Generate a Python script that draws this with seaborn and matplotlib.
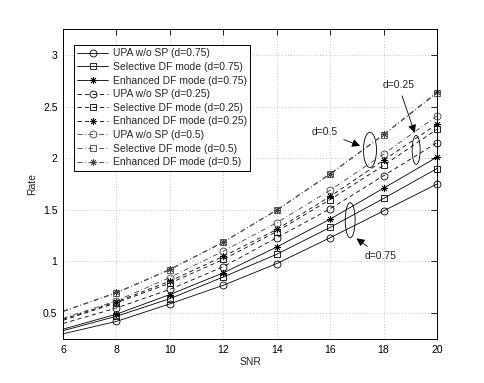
import matplotlib
matplotlib.use("Agg")
import matplotlib.pyplot as plt
import seaborn as sns
import pandas as pd
from matplotlib.patches import Ellipse

snr = [6, 8, 10, 12, 14, 16, 18, 20]

upa_075 = [0.30, 0.42, 0.59, 0.77, 0.98, 1.23, 1.49, 1.75]
sel_075 = [0.33, 0.47, 0.64, 0.85, 1.07, 1.33, 1.61, 1.90]
enh_075 = [0.345, 0.49, 0.68, 0.89, 1.14, 1.41, 1.71, 2.01]
upa_025 = [0.40, 0.55, 0.73, 0.95, 1.23, 1.51, 1.83, 2.15]
sel_025 = [0.43, 0.60, 0.79, 1.02, 1.29, 1.60, 1.93, 2.28]
enh_025 = [0.44, 0.61, 0.81, 1.05, 1.31, 1.63, 1.98, 2.33]
upa_05 = [0.45, 0.62, 0.845, 1.10, 1.375, 1.69, 2.04, 2.41]
sel_05 = [0.515, 0.695, 0.92, 1.185, 1.495, 1.845, 2.225, 2.63]
enh_05 = [0.52, 0.70, 0.925, 1.19, 1.50, 1.85, 2.23, 2.64]

labels = ["UPA w/o SP (d=0.75)", "Selective DF mode (d=0.75)", "Enhanced DF mode (d=0.75)",
          "UPA w/o SP (d=0.25)", "Selective DF mode (d=0.25)", "Enhanced DF mode (d=0.25)",
          "UPA w/o SP (d=0.5)", "Selective DF mode (d=0.5)", "Enhanced DF mode (d=0.5)"]
series = [upa_075, sel_075, enh_075, upa_025, sel_025, enh_025, upa_05, sel_05, enh_05]

sns.set_theme(style="white")
plt.rcParams['font.family'] = ['Liberation Sans', 'DejaVu Sans']

fig = plt.figure(figsize=(4.85, 3.83), dpi=100)
ax = fig.add_axes([0.13, 0.115, 0.771, 0.809])

ast = (8, 2, 0)
markers = ['o', 's', ast] * 3
styles = ['-'] * 3 + [(0, (5, 4))] * 3 + [(0, (6, 3, 1, 3))] * 3
msizes = [5, 4, 5] * 3
colors = ['black'] * 6 + ['#404040'] * 3

for lab, vals, mk, ls, ms, c in zip(labels, series, markers, styles, msizes, colors):
    df = pd.DataFrame({"SNR": snr, "Rate": vals})
    sns.lineplot(data=df, x="SNR", y="Rate", ax=ax, color=c, lw=0.6,
                 linestyle=ls, marker=mk, markersize=ms, markevery=list(range(1, len(snr))),
                 markerfacecolor='none', markeredgecolor=c, markeredgewidth=0.6,
                 label=lab, clip_on=False)

ax.set_xlim(6, 20)
ax.set_ylim(0.25, 3.25)
ax.set_xticks(snr)
ax.set_yticks([0.5, 1, 1.5, 2, 2.5, 3])
ax.set_yticklabels(["0.5", "1", "1.5", "2", "2.5", "3"])
ax.grid(True, color='#b0b0b0', linestyle=(0, (1, 2.5)), linewidth=0.6)
ax.tick_params(direction='in', length=4, width=0.6, labelsize=7.5, top=True, right=True,
               colors='black', pad=4)
for s in ax.spines.values():
    s.set_color('black')
    s.set_linewidth(0.7)
ax.set_xlabel("SNR", fontsize=7.5, labelpad=2)
ax.set_ylabel("Rate", fontsize=7.5, labelpad=4)

leg = ax.legend(loc='upper left', bbox_to_anchor=(0.028, 0.95), fontsize=7.5, frameon=True,
                fancybox=False, edgecolor='black', framealpha=1, handlelength=3.0,
                labelspacing=0.35, borderpad=0.35, handletextpad=0.4, borderaxespad=0)
leg.get_frame().set_linewidth(0.7)

# ellipses and annotations
for (cx, cy, w, h) in [(17.49, 2.08, 0.49, 0.34), (19.22, 2.08, 0.30, 0.28), (16.75, 1.40, 0.37, 0.34)]:
    ax.add_patch(Ellipse((cx, cy), w, h, fill=False, edgecolor='black', lw=0.6))

arrow = dict(arrowstyle='-|>', color='black', lw=0.6, mutation_scale=12)
ax.annotate("d=0.5", xy=(17.22, 2.11), xytext=(15.8, 2.25), fontsize=7.5, ha='center', va='center',
            arrowprops=arrow)
ax.annotate("d=0.25", xy=(19.2, 2.22), xytext=(18.55, 2.71), fontsize=7.5, ha='center', va='center',
            arrowprops=arrow)
ax.annotate("d=0.75", xy=(16.9, 1.24), xytext=(17.9, 1.05), fontsize=7.5, ha='center', va='center',
            arrowprops=arrow)

fig.savefig("out.png", dpi=100, facecolor='white')
